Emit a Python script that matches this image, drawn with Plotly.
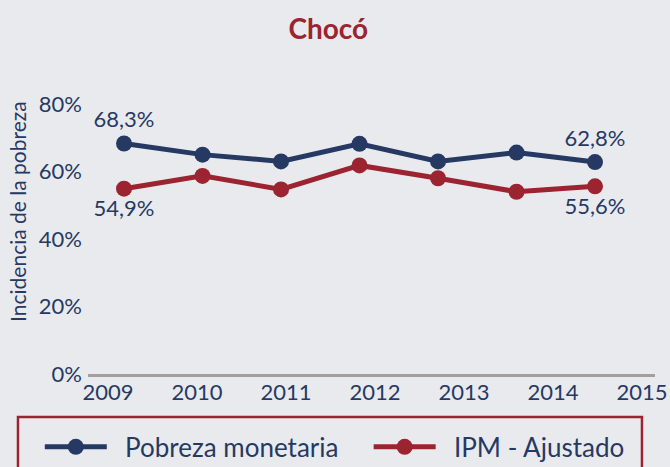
import plotly.graph_objects as go

# data
years = [2009, 2010, 2011, 2012, 2013, 2014, 2015]
pobreza_monetaria = [68.3, 65.0, 63.0, 68.2, 63.0, 65.6, 62.8]
ipm_ajustado = [54.9, 58.7, 54.7, 61.8, 58.0, 54.0, 55.6]
y_ticks = [0, 20, 40, 60, 80]

NAVY = "#263963"
RED = "#9b2430"
BG = "#e9eaee"
FONT = "Lato"
NBSP = "\u00a0"


def end_labels(values):
    # only first and last point carry a label, decimal comma
    out = []
    for i, v in enumerate(values):
        if i in (0, len(values) - 1):
            out.append(f"{v:.1f}".replace(".", ",") + "%")
        else:
            out.append("")
    return out


def txt(size, color=NAVY):
    return dict(size=size, color=color, family=FONT)


fig = go.Figure()
fig.add_trace(go.Scatter(
    x=years, y=pobreza_monetaria, name=NBSP * 2 + "Pobreza monetaria",
    mode="lines+markers+text", text=end_labels(pobreza_monetaria),
    textposition="top center", textfont=txt(22),
    line=dict(color=NAVY, width=5), marker=dict(size=16, color=NAVY),
    cliponaxis=False, legend="legend",
))
fig.add_trace(go.Scatter(
    x=years, y=ipm_ajustado, name=NBSP * 2 + "IPM - Ajustado",
    mode="lines+markers+text", text=end_labels(ipm_ajustado),
    textposition="bottom center", textfont=txt(22),
    line=dict(color=RED, width=5), marker=dict(size=16, color=RED),
    cliponaxis=False, legend="legend2",
))
# invisible trace so the year labels axis gets drawn
fig.add_trace(go.Scatter(x=years, y=[None] * len(years), xaxis="x2",
                         showlegend=False, hoverinfo="skip"))

# frame of the legend
fig.add_shape(type="rect", xref="paper", yref="paper",
              x0=-0.1235, x1=0.977, y0=-0.159, y1=-0.40,
              line=dict(color=RED, width=2.5), fillcolor="rgba(0,0,0,0)")

fig.add_annotation(text="Incidencia de la pobreza", xref="paper", yref="paper",
                   x=-0.1235, y=0.604, textangle=-90, showarrow=False,
                   xanchor="center", yanchor="middle", font=txt(21))

legend_style = dict(orientation="h", y=-0.27, yanchor="middle", xanchor="left",
                    font=txt(26), bgcolor="rgba(0,0,0,0)", itemwidth=62)

fig.update_layout(
    width=670, height=467,
    paper_bgcolor=BG, plot_bgcolor=BG,
    margin=dict(l=88, r=15, t=104, b=93, autoexpand=False),
    separators=",.",
    font=dict(family=FONT, color=NAVY),
    title=dict(text="<b>Chocó</b>", x=0.49, xanchor="center", y=0.938, yanchor="middle",
               yref="container", font=dict(size=28, color=RED, family=FONT)),
    showlegend=True,
    legend=dict(x=-0.085, **legend_style),
    legend2=dict(x=0.495, **legend_style),
    xaxis=dict(range=[2008.541, 2015.764], showticklabels=False, showgrid=False,
               zeroline=False, showline=True, linecolor="#a39f9f", linewidth=3,
               ticks=""),
    xaxis2=dict(overlaying="x", side="bottom", range=[2008.775, 2015.146],
                tickvals=years, ticktext=[str(y) for y in years],
                showgrid=False, zeroline=False, showline=False, ticks="",
                ticklabelstandoff=3, ticklabeloverflow="allow",
                tickfont=txt(22)),
    yaxis=dict(range=[0, 80], tickvals=y_ticks, ticktext=[f"{v}%" for v in y_ticks],
               showgrid=False, zeroline=False, showline=False, ticks="",
               ticklabelstandoff=5, tickfont=txt(22)),
)

# drop the default 8px page margin so the figure sits at the window's corner
fig.write_html("out.html", config={"displayModeBar": False},
               post_script="document.body.style.margin='0';")
